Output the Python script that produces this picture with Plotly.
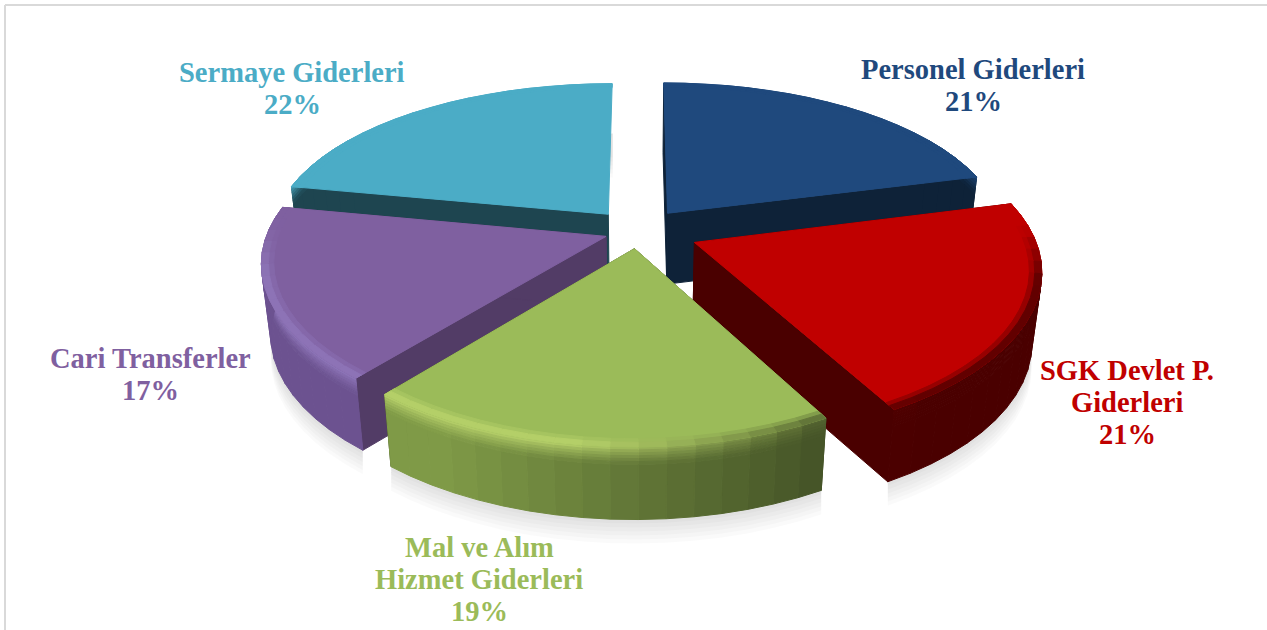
"""
Budget expense shares, exploded 3D-style pie
"""

import math
import plotly.graph_objects as go

# data
names = ['Personel Giderleri', 'SGK Devlet P.<br>Giderleri', 'Mal ve Alım<br>Hizmet Giderleri',
         'Cari Transferler', 'Sermaye Giderleri']
shares = [21, 21, 19, 17, 22]

top_colors = ['#1F497D', '#C00000', '#9BBB59', '#7F60A0', '#4BACC6']
wall_left = ['#0E2238', '#520000', '#7F9A47', '#6C5290', '#1E4550']
wall_right = ['#0E2238', '#4A0000', '#3C4922', '#5F4880', '#1E4550']
cut_colors = ['#0E2238', '#4A0000', '#3C4922', '#523C66', '#1E4550']
rim_colors = ['#1F497D', '#C00000', '#BAD46C', '#9078BC', '#4BACC6']
explode = [0.145, 0.18, 0.11, 0.10, 0.14]
label_x = [973, 1127, 479, 150, 292]
label_y = [85, 402, 579, 374, 88]

# camera used to flatten the pie
CX, CY = 638, 231
RX, RY = 338, 158
PERSP = 0.17
DEPTH = 71
TAPER = 0.025
LINE_GAP = 32
BEVEL_STEPS = 6

# back to front so nearer slices cover the farther ones
DRAW_ORDER = [0, 4, 3, 1, 2]


def project(u, v, z=0.0):
    s = 1 / (1 - PERSP * v)
    return CX + RX * u * s ** 0.9 * (1 - TAPER * z), CY + RY * v * s + DEPTH * z * s ** 0.1


def mix(c1, c2, t):
    a = [int(c1[i:i + 2], 16) for i in (1, 3, 5)]
    b = [int(c2[i:i + 2], 16) for i in (1, 3, 5)]
    return '#{:02X}{:02X}{:02X}'.format(*[round(a[i] + (b[i] - a[i]) * t) for i in range(3)])


def polygon(points, color):
    xs = [p[0] for p in points] + [points[0][0]]
    ys = [p[1] for p in points] + [points[0][1]]
    return go.Scatter(
        x=xs, y=ys, mode='lines', fill='toself', fillcolor=color,
        line=dict(color=color, width=1),
        hoverinfo='skip', showlegend=False
    )


def slice_points(i, step=4):
    start = sum(shares[:i]) / sum(shares) * 2 * math.pi
    end = sum(shares[:i + 1]) / sum(shares) * 2 * math.pi
    mid = (start + end) / 2
    ou, ov = explode[i] * math.sin(mid), -explode[i] * math.cos(mid)
    n = int(math.degrees(end - start) / step)
    angles = [start + (end - start) * k / n for k in range(n + 1)]
    return angles, ou, ov


def rim(a, ou, ov, r, z):
    return project(ou + r * math.sin(a), ov - r * math.cos(a), z)


def strip(a0, a1, ou, ov, r0, z0, r1, z1, color):
    return polygon([rim(a0, ou, ov, r0, z0), rim(a1, ou, ov, r0, z0),
                    rim(a1, ou, ov, r1, z1), rim(a0, ou, ov, r1, z1)], color)


def wall_shades(i, a0, a1):
    # wall colour and the colour of the rounded edge above it
    mid = (a0 + a1) / 2
    t = 1 - min(1, max(0, (0.62 - math.sin(mid)) / 1.1))
    wall = mix(wall_left[i], wall_right[i], t)
    edge = mix(rim_colors[i], wall, min(1, max(0, t - 0.3) * 1.6))
    # rim facing away from the viewer stays the colour of the top
    front = min(1, max(0, -math.cos(mid) + 0.1) * 3)
    edge = mix(top_colors[i], edge, front)
    return wall, edge


fig = go.Figure()

# soft shadow under the slices
for i in DRAW_ORDER:
    angles, ou, ov = slice_points(i)
    for off in (24, 20, 16, 12, 8, 4):
        pts = [rim(a, ou, ov, 1, 1) for a in angles]
        pts = [(x, y + off) for x, y in pts] + [(x, y - 20) for x, y in reversed(pts)]
        fig.add_trace(go.Scatter(
            x=[p[0] for p in pts], y=[p[1] for p in pts], mode='lines', fill='toself',
            fillcolor='rgba(0,0,0,0.018)', line=dict(width=0),
            hoverinfo='skip', showlegend=False
        ))

for i in DRAW_ORDER:
    angles, ou, ov = slice_points(i)
    apex = project(ou, ov)
    apex_low = project(ou, ov, 1)

    # cut faces, the last slice hides its closing face
    faces = [angles[0]] if i == len(shares) - 1 else [angles[0], angles[-1]]
    for a in faces:
        fig.add_trace(polygon([apex, rim(a, ou, ov, 1, 0), rim(a, ou, ov, 1, 1), apex_low], cut_colors[i]))

    # outer wall, the far side of the pie cannot be seen
    for a0, a1 in zip(angles[:-1], angles[1:]):
        if -math.cos((a0 + a1) / 2) < -0.5:
            continue
        wall, edge = wall_shades(i, a0, a1)
        fig.add_trace(strip(a0, a1, ou, ov, 1, 0.24, 1, 1, wall))
        for k in range(BEVEL_STEPS):
            z0 = 0.24 * k / BEVEL_STEPS
            z1 = 0.24 * (k + 1) / BEVEL_STEPS
            fig.add_trace(strip(a0, a1, ou, ov, 1, z0, 1, z1, mix(edge, wall, ((k + 0.5) / BEVEL_STEPS) ** 0.8)))

    # top face with the light band along the rim
    fig.add_trace(polygon([apex] + [rim(a, ou, ov, 1, 0) for a in angles], top_colors[i]))
    for a0, a1 in zip(angles[:-1], angles[1:]):
        wall, edge = wall_shades(i, a0, a1)
        fig.add_trace(strip(a0, a1, ou, ov, 0.965, 0, 0.98, 0, mix(top_colors[i], edge, 0.35)))
        fig.add_trace(strip(a0, a1, ou, ov, 0.98, 0, 1, 0, mix(top_colors[i], edge, 0.8)))

for i, name in enumerate(names):
    lines = name.split('<br>') + [f'{shares[i]}%']
    for k, line in enumerate(lines):
        fig.add_annotation(
            x=label_x[i], y=label_y[i] + (k - (len(lines) - 1) / 2) * LINE_GAP,
            xref='x', yref='y', showarrow=False,
            text=f'<b>{line}</b>',
            font=dict(family='Liberation Serif', size=28.5, color=top_colors[i])
        )

# thin frame, top and left only
fig.add_shape(type='line', x0=5, x1=1267, y0=5, y1=5, line=dict(color='#D9D9D9', width=2))
fig.add_shape(type='line', x0=5, x1=5, y0=5, y1=630, line=dict(color='#D9D9D9', width=2))

fig.update_xaxes(range=[0, 1267], visible=False)
fig.update_yaxes(range=[630, 0], visible=False)
fig.update_layout(
    width=1267, height=630, margin=dict(l=0, r=0, t=0, b=0),
    plot_bgcolor='white', paper_bgcolor='white', showlegend=False
)

fig.write_html("out.html", config={'displayModeBar': False},
               post_script="document.body.style.margin='0';")
